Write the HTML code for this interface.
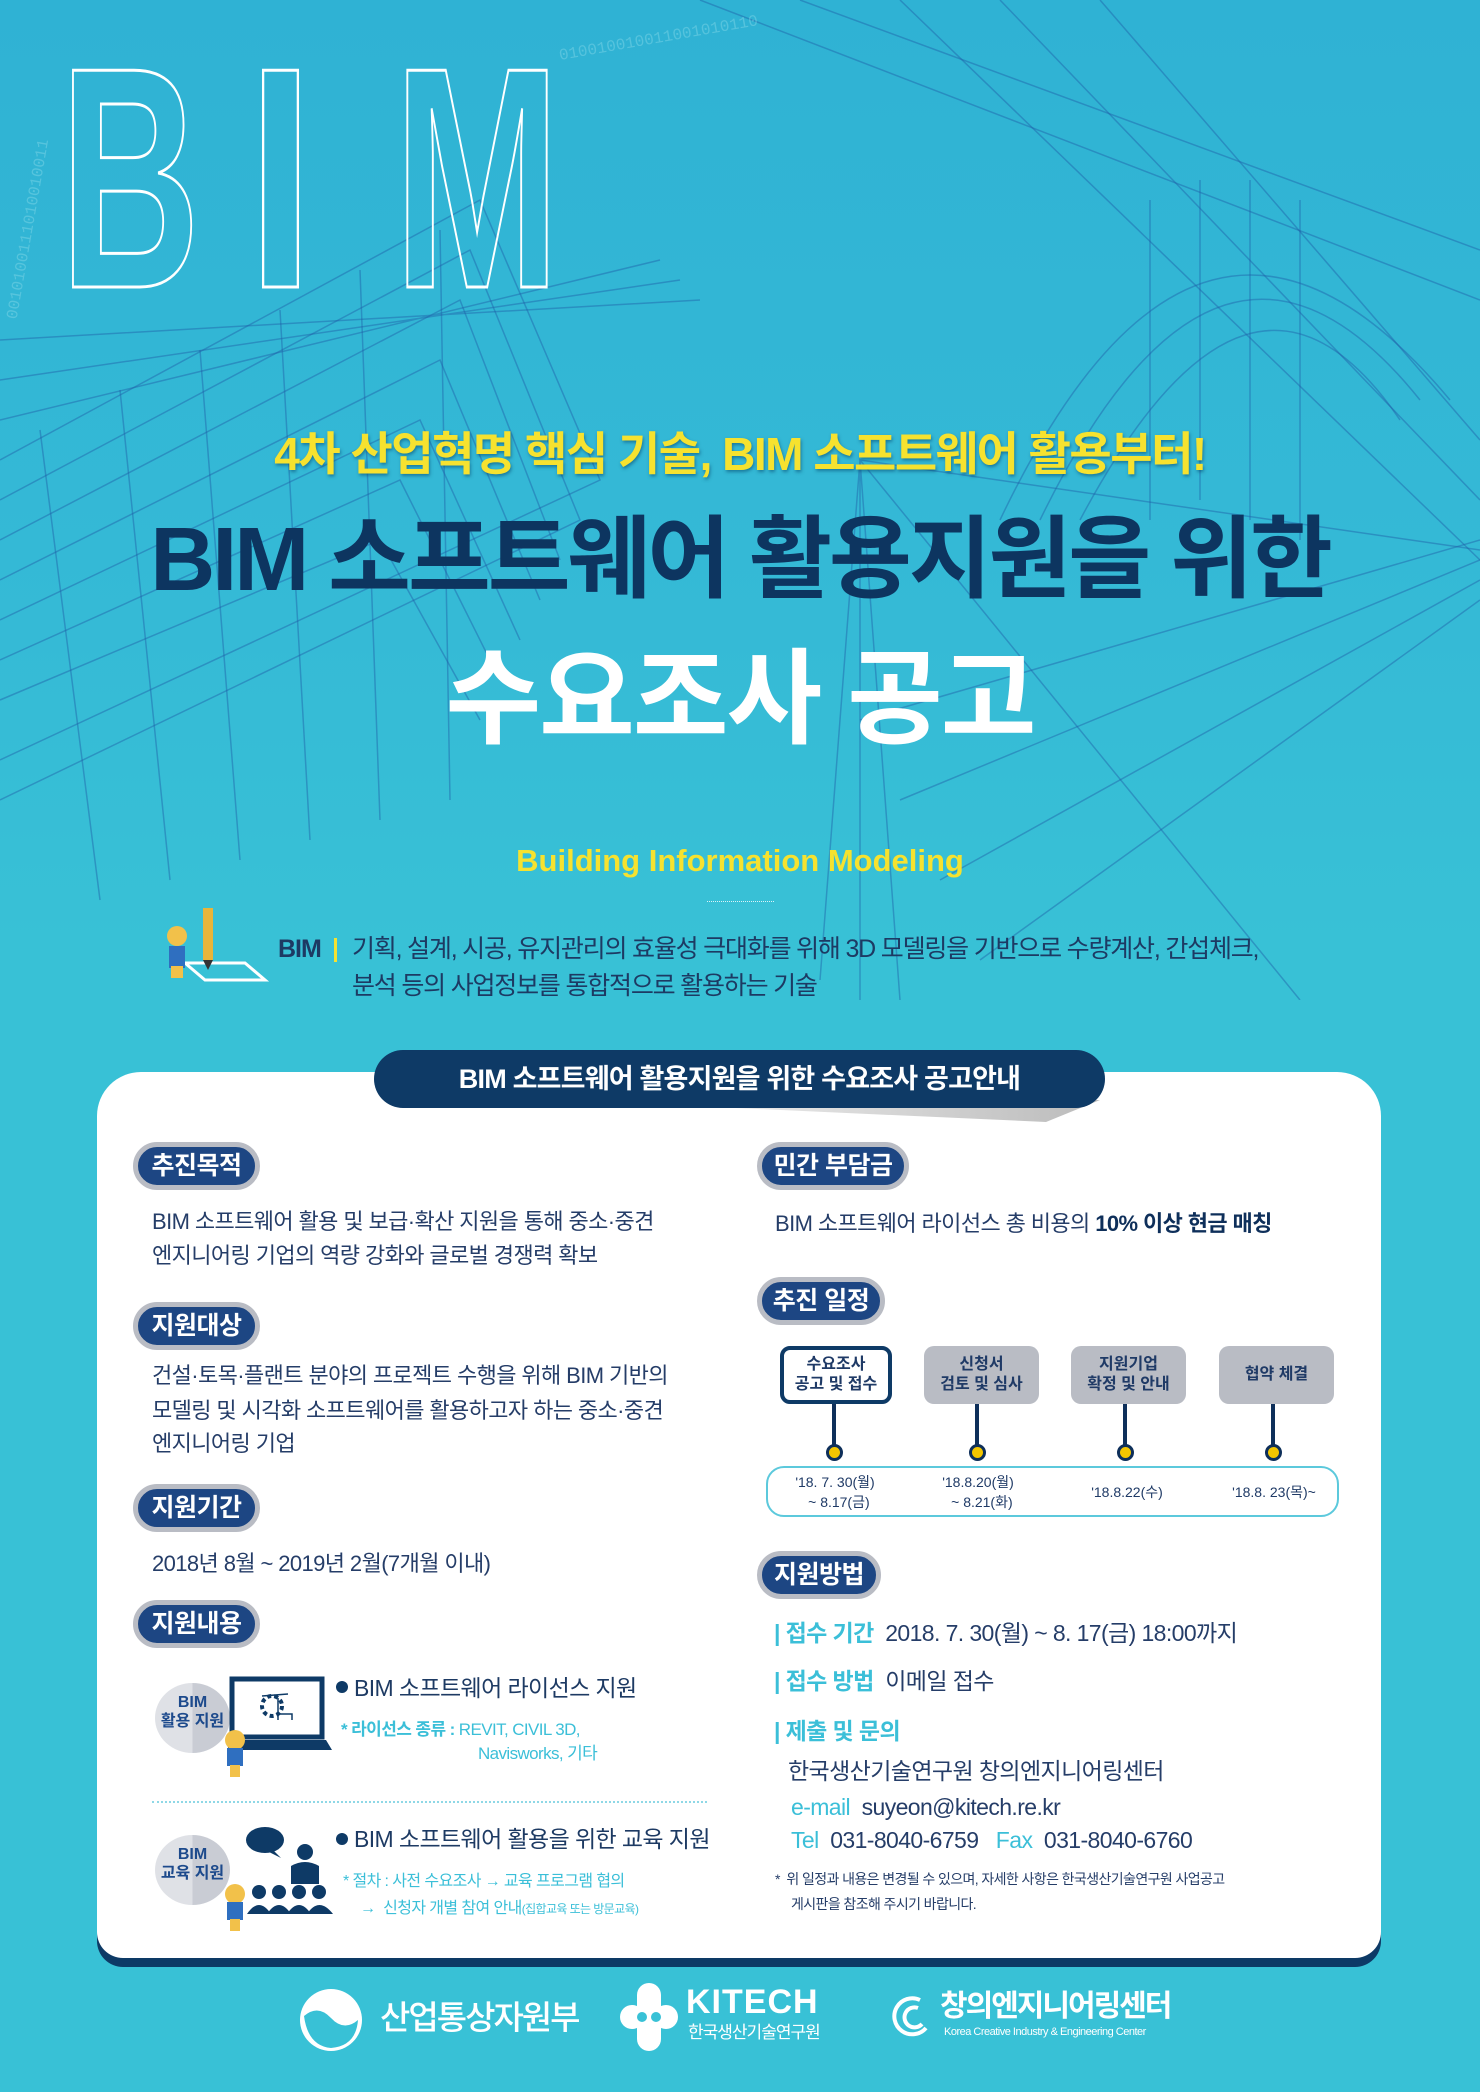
<!DOCTYPE html>
<html><head><meta charset="utf-8">
<style>
*{margin:0;padding:0;box-sizing:border-box}
body{width:1480px;height:2092px;overflow:hidden;font-family:"Liberation Sans","Noto Sans CJK KR",sans-serif;background:#38c1d6}
#bg{position:absolute;left:0;top:0;width:1480px;height:2092px;background:linear-gradient(180deg,#2fb2d4 0%,#35bad6 30%,#38c1d6 45%,#38c1d6 100%)}
.a{position:absolute;white-space:nowrap}
.kr{font-family:"Liberation Sans","Noto Sans CJK KR",sans-serif}
.pill{position:absolute;height:48px;border-radius:24px;background:#1d4683;border:5px solid #b9bcc4;color:#fff;font-weight:700;font-size:25px;line-height:38px;text-align:center;letter-spacing:-0.5px}
.pill:after{content:"";position:absolute;left:40%;top:40px;width:55%;height:8px;background:linear-gradient(90deg,#bbb,rgba(200,200,200,0));clip-path:polygon(0 0,100% 0,70% 100%);z-index:-1}
.t{position:absolute;white-space:nowrap;font-size:22px;color:#253d68;letter-spacing:-0.6px;line-height:30px}
.box{position:absolute;top:1346px;height:58px;border-radius:10px;background:#b9bcc4;color:#1f3a66;font-size:16px;font-weight:700;text-align:center;line-height:20px;display:flex;align-items:center;justify-content:center}
.stem{position:absolute;top:1404px;width:4px;height:42px;background:#0e2f5a}
.dot{position:absolute;top:1444px;width:17px;height:17px;border-radius:50%;background:#f3c600;border:3px solid #0e2f5a}
.dt{position:absolute;font-size:14px;color:#1f3a66;line-height:20px;text-align:center;white-space:nowrap}
.lab{color:#3bbfd8;font-weight:700}
</style></head><body>
<div id="bg"></div>
<svg class="a" style="left:0;top:0" width="1480" height="1000" viewBox="0 0 1480 1000">
<g stroke="#1f5fa8" stroke-opacity="0.45" fill="none" stroke-width="1.5">
<path d="M0 460 L480 200 L600 480 L0 760"/>
<path d="M0 500 L470 250 L580 520 L0 800"/>
<path d="M0 540 L460 300 L560 560"/>
<path d="M0 580 L440 360 L540 600"/>
<path d="M0 620 L420 420 L520 640"/>
<path d="M0 660 L400 480 L500 680"/>
<path d="M0 700 L380 540 L480 720"/>
<path d="M0 420 L660 260 M0 380 L680 280 M0 340 L700 300"/>
<path d="M40 430 L100 900 M120 390 L170 880 M200 350 L240 860 M280 310 L310 840 M360 270 L380 820 M440 230 L450 800"/>
<path d="M860 1000 L860 460 L1480 550 M820 980 L860 460 L1300 1000 M900 1000 L860 460"/>
<path d="M900 0 L1480 560 M1000 0 L1480 500 M1100 0 L1480 440"/>
<path d="M1000 520 Q1200 100 1450 400 M1040 520 Q1220 150 1420 400 M1080 520 Q1250 200 1400 420"/>
<path d="M1480 540 L860 720 M1480 560 L900 800 M1480 580 L940 880 M1480 600 L980 960"/>
<path d="M700 0 L1480 300 M800 0 L1480 250"/>
<path d="M1150 200 L1150 520 M1200 180 L1200 500 M1250 180 L1250 520 M1300 200 L1300 540"/>
</g>
<g font-family="Liberation Sans" font-size="315" font-weight="700" fill="none" stroke="#fff" stroke-width="3">
<text x="60" y="287" textLength="140" lengthAdjust="spacingAndGlyphs">B</text>
<text x="247" y="287" textLength="67" lengthAdjust="spacingAndGlyphs">I</text>
<text x="394" y="287" textLength="166" lengthAdjust="spacingAndGlyphs">M</text>
</g>
<g fill="#9fe3ee" fill-opacity="0.35" font-family="Liberation Mono" font-size="16">
<text x="0" y="300" transform="rotate(-80 20 300)">0010100111010010011</text>
<text x="560" y="60" transform="rotate(-10 560 60)">010010010011001010110</text>
</g>
</svg>

<div class="a kr" style="left:0;width:1480px;top:424px;text-align:center;font-size:46px;font-weight:700;color:#f6e22f;letter-spacing:-1.5px;line-height:60px;text-shadow:1px 2px 3px rgba(0,60,100,0.5)">4차 산업혁명 핵심 기술, BIM 소프트웨어 활용부터!</div>
<div class="a kr" style="left:0;width:1480px;top:505px;text-align:center;font-size:90px;font-weight:700;color:#0d3560;letter-spacing:-3px;line-height:110px">BIM 소프트웨어 활용지원을 위한</div>
<div class="a kr" style="left:0;width:1480px;top:636px;text-align:center;font-size:104px;font-weight:700;color:#fff;letter-spacing:-2px;line-height:128px">수요조사 공고</div>
<div class="a" style="left:0;width:1480px;top:842px;text-align:center;font-size:31px;font-weight:700;color:#f6e22f;line-height:38px;font-family:'Liberation Sans',sans-serif">Building Information Modeling</div>
<div class="a" style="left:707px;top:901px;width:67px;border-top:1px dotted #d8f3f8"></div>

<svg class="a" style="left:155px;top:908px" width="115" height="75" viewBox="0 0 115 75">
<polygon points="30,55 90,55 110,72 50,72" fill="none" stroke="#fff" stroke-width="3"/>
<rect x="48" y="0" width="10" height="52" fill="#e8b53a"/><polygon points="48,52 58,52 53,62" fill="#333"/>
<circle cx="22" cy="28" r="10" fill="#f2c14a"/><rect x="14" y="38" width="16" height="22" fill="#2f6fc0"/><rect x="16" y="58" width="12" height="12" fill="#f2c14a"/>
</svg>
<div class="a kr" style="left:278px;top:934px;font-size:25px;font-weight:700;color:#1d3a63;line-height:30px;letter-spacing:-1px">BIM</div>
<div class="a" style="left:334px;top:938px;width:3px;height:24px;background:#f6e22f"></div>
<div class="a kr" style="left:352px;top:932px;font-size:25px;color:#1d3a63;line-height:34px;letter-spacing:-1.2px">기획, 설계, 시공, 유지관리의 효율성 극대화를 위해 3D 모델링을 기반으로 수량계산, 간섭체크,</div>
<div class="a kr" style="left:352px;top:969px;font-size:25px;color:#1d3a63;line-height:34px;letter-spacing:-1.2px">분석 등의 사업정보를 통합적으로 활용하는 기술</div>

<!-- card -->
<div class="a" style="left:97px;top:1072px;width:1284px;height:886px;background:#fff;border-radius:44px 44px 26px 26px;box-shadow:0 9px 0 #0d3a66"></div>
<div class="a" style="left:560px;top:1100px;width:540px;height:22px;background:linear-gradient(90deg,rgba(180,180,180,0),#bbb);clip-path:polygon(0 0,100% 0,90% 100%)"></div>
<div class="a kr" style="left:374px;top:1050px;width:731px;height:58px;border-radius:29px;background:#0e3a66;color:#fff;font-size:27px;font-weight:700;text-align:center;line-height:58px;letter-spacing:-0.8px">BIM 소프트웨어 활용지원을 위한 수요조사 공고안내</div>

<!-- left column -->
<div class="pill kr" style="left:133px;top:1142px;width:127px">추진목적</div>
<div class="t kr" style="left:152px;top:1207px">BIM 소프트웨어 활용 및 보급·확산 지원을 통해 중소·중견</div>
<div class="t kr" style="left:152px;top:1241px">엔지니어링 기업의 역량 강화와 글로벌 경쟁력 확보</div>

<div class="pill kr" style="left:133px;top:1302px;width:127px">지원대상</div>
<div class="t kr" style="left:152px;top:1361px">건설·토목·플랜트 분야의 프로젝트 수행을 위해 BIM 기반의</div>
<div class="t kr" style="left:152px;top:1396px">모델링 및 시각화 소프트웨어를 활용하고자 하는 중소·중견</div>
<div class="t kr" style="left:152px;top:1429px">엔지니어링 기업</div>

<div class="pill kr" style="left:133px;top:1484px;width:127px">지원기간</div>
<div class="t kr" style="left:152px;top:1549px">2018년 8월 ~ 2019년 2월(7개월 이내)</div>

<div class="pill kr" style="left:133px;top:1600px;width:127px">지원내용</div>

<div class="a" style="left:155px;top:1683px;width:75px;height:70px;border-radius:50%;background:linear-gradient(90deg,#dfe1e6 50%,#c9ccd4 50%)"></div>
<div class="a kr" style="left:150px;top:1693px;width:85px;text-align:center;font-size:16px;font-weight:700;color:#1d4a8c;line-height:19px">BIM<br>활용 지원</div>
<svg class="a" style="left:228px;top:1676px" width="104" height="80" viewBox="0 0 104 80">
<rect x="4" y="3" width="90" height="58" fill="#fff" stroke="#0e3a66" stroke-width="5"/>
<polygon points="0,64 98,64 104,74 0,74" fill="#0e3a66"/>
<circle cx="44" cy="30" r="10" fill="none" stroke="#0e3a66" stroke-width="4" stroke-dasharray="4 3"/>
<path d="M34 20 L60 18 M50 22 L50 44 M50 38 L64 38 L64 44" stroke="#0e3a66" stroke-width="1.5" fill="none"/>
</svg>
<svg class="a" style="left:220px;top:1730px" width="30" height="50" viewBox="0 0 30 50"><circle cx="15" cy="10" r="10" fill="#f2c14a"/><rect x="7" y="18" width="16" height="18" fill="#2f6fc0"/><rect x="10" y="35" width="10" height="12" fill="#f2c14a"/></svg>
<div class="a" style="left:336px;top:1681px;width:12px;height:12px;border-radius:50%;background:#0e3a66"></div>
<div class="t kr" style="left:354px;top:1673px;font-size:23px;color:#1d3a63">BIM 소프트웨어 라이선스 지원</div>
<div class="t kr" style="left:341px;top:1718px;font-size:17px;color:#3bbfd8;line-height:24px"><b>* 라이선스 종류 :</b> REVIT, CIVIL 3D,</div>
<div class="t kr" style="left:478px;top:1742px;font-size:17px;color:#3bbfd8;line-height:24px">Navisworks, 기타</div>

<div class="a" style="left:152px;top:1801px;width:555px;border-top:2px dotted #8fd8e6"></div>

<div class="a" style="left:155px;top:1835px;width:75px;height:70px;border-radius:50%;background:linear-gradient(90deg,#dfe1e6 50%,#c9ccd4 50%)"></div>
<div class="a kr" style="left:150px;top:1845px;width:85px;text-align:center;font-size:16px;font-weight:700;color:#1d4a8c;line-height:19px">BIM<br>교육 지원</div>
<svg class="a" style="left:245px;top:1826px" width="92" height="92" viewBox="0 0 92 92">
<ellipse cx="20" cy="14" rx="19" ry="13" fill="#0e3a66"/><polygon points="28,24 36,32 24,26" fill="#0e3a66"/>
<circle cx="60" cy="26" r="8" fill="#0e3a66"/><path d="M46 58 L46 40 Q60 32 74 40 L74 58 Z" fill="#0e3a66"/>
<circle cx="14" cy="66" r="7" fill="#0e3a66"/><circle cx="34" cy="66" r="7" fill="#0e3a66"/><circle cx="54" cy="66" r="7" fill="#0e3a66"/><circle cx="74" cy="66" r="7" fill="#0e3a66"/>
<path d="M2 88 Q14 70 26 88 Z M22 88 Q34 70 46 88 Z M42 88 Q54 70 66 88 Z M62 88 Q74 70 88 88 Z" fill="#0e3a66"/>
</svg>
<svg class="a" style="left:220px;top:1884px" width="30" height="50" viewBox="0 0 30 50"><circle cx="15" cy="10" r="10" fill="#f2c14a"/><rect x="7" y="18" width="16" height="18" fill="#2f6fc0"/><rect x="10" y="35" width="10" height="12" fill="#f2c14a"/></svg>
<div class="a" style="left:336px;top:1833px;width:12px;height:12px;border-radius:50%;background:#0e3a66"></div>
<div class="t kr" style="left:354px;top:1824px;font-size:23px;color:#1d3a63">BIM 소프트웨어 활용을 위한 교육 지원</div>
<div class="t kr" style="left:343px;top:1870px;font-size:16px;color:#3bbfd8;line-height:24px">* 절차 : 사전 수요조사 → 교육 프로그램 협의</div>
<div class="t kr" style="left:360px;top:1897px;font-size:16px;color:#3bbfd8;line-height:24px">→ &nbsp;신청자 개별 참여 안내<span style="font-size:12px">(집합교육 또는 방문교육)</span></div>

<!-- right column -->
<div class="pill kr" style="left:757px;top:1142px;width:152px">민간 부담금</div>
<div class="t kr" style="left:775px;top:1209px">BIM 소프트웨어 라이선스 총 비용의 <b style="color:#0e2f5a">10% 이상 현금 매칭</b></div>

<div class="pill kr" style="left:757px;top:1277px;width:128px">추진 일정</div>
<div class="box kr" style="left:780px;width:112px;background:#fff;border:4px solid #0e3a66">수요조사<br>공고 및 접수</div>
<div class="box kr" style="left:924px;width:115px">신청서<br>검토 및 심사</div>
<div class="box kr" style="left:1071px;width:115px">지원기업<br>확정 및 안내</div>
<div class="box kr" style="left:1219px;width:115px">협약 체결</div>
<div class="stem" style="left:832px"></div><div class="stem" style="left:975px"></div><div class="stem" style="left:1123px"></div><div class="stem" style="left:1271px"></div>
<div class="dot" style="left:826px"></div><div class="dot" style="left:969px"></div><div class="dot" style="left:1117px"></div><div class="dot" style="left:1265px"></div>
<div class="a" style="left:766px;top:1466px;width:573px;height:51px;border:2px solid #5cc9dc;border-radius:18px"></div>
<div class="dt kr" style="left:795px;top:1472px;width:80px">'18. 7. 30(월)<br>&nbsp;&nbsp;~ 8.17(금)</div>
<div class="dt kr" style="left:938px;top:1472px;width:80px">'18.8.20(월)<br>&nbsp;&nbsp;~ 8.21(화)</div>
<div class="dt kr" style="left:1087px;top:1482px;width:80px">'18.8.22(수)</div>
<div class="dt kr" style="left:1229px;top:1482px;width:90px">'18.8. 23(목)~</div>

<div class="pill kr" style="left:757px;top:1551px;width:124px">지원방법</div>
<div class="t kr" style="left:774px;top:1617px;font-size:23px;line-height:32px"><span class="lab">| 접수 기간</span>&nbsp; 2018. 7. 30(월) ~ 8. 17(금) 18:00까지</div>
<div class="t kr" style="left:774px;top:1665px;font-size:23px;line-height:32px"><span class="lab">| 접수 방법</span>&nbsp; 이메일 접수</div>
<div class="t kr" style="left:774px;top:1715px;font-size:23px;line-height:32px"><span class="lab">| 제출 및 문의</span></div>
<div class="t kr" style="left:788px;top:1755px;font-size:23px;line-height:32px">한국생산기술연구원 창의엔지니어링센터</div>
<div class="t kr" style="left:791px;top:1791px;font-size:23px;line-height:32px"><span style="color:#3bbfd8">e-mail</span>&nbsp; suyeon@kitech.re.kr</div>
<div class="t kr" style="left:791px;top:1824px;font-size:23px;line-height:32px"><span style="color:#3bbfd8">Tel</span>&nbsp; 031-8040-6759 &nbsp;&nbsp;<span style="color:#3bbfd8">Fax</span>&nbsp; 031-8040-6760</div>
<div class="t kr" style="left:775px;top:1868px;font-size:14px;line-height:22px;letter-spacing:-0.6px">*&nbsp; 위 일정과 내용은 변경될 수 있으며, 자세한 사항은 한국생산기술연구원 사업공고</div>
<div class="t kr" style="left:791px;top:1893px;font-size:14px;line-height:22px;letter-spacing:-0.6px">게시판을 참조해 주시기 바랍니다.</div>

<!-- logos -->
<svg class="a" style="left:298px;top:1986px" width="66" height="68" viewBox="0 0 66 68"><circle cx="33" cy="34" r="31" fill="#fff"/><path d="M6 30 Q20 18 33 32 Q46 46 60 34 Q58 60 33 62 Q10 60 6 30Z" fill="#38c1d6"/></svg>
<div class="a kr" style="left:380px;top:1996px;font-size:33px;color:#fff;font-weight:500;letter-spacing:-2px;line-height:44px">산업통상자원부</div>
<svg class="a" style="left:620px;top:1982px" width="58" height="70" viewBox="0 0 58 70"><g fill="#fff"><circle cx="29" cy="13" r="12"/><circle cx="29" cy="57" r="12"/><circle cx="12" cy="35" r="12"/><circle cx="46" cy="35" r="12"/><rect x="17" y="13" width="24" height="44"/></g><circle cx="22" cy="35" r="5" fill="#38c1d6"/><circle cx="36" cy="35" r="5" fill="#38c1d6"/></svg>
<div class="a" style="left:686px;top:1982px;font-size:34px;color:#fff;font-weight:700;line-height:40px;letter-spacing:1px">KITECH</div>
<div class="a kr" style="left:688px;top:2022px;font-size:17px;color:#fff;line-height:22px;letter-spacing:-1px">한국생산기술연구원</div>
<svg class="a" style="left:890px;top:1994px" width="42" height="46" viewBox="0 0 42 46"><g fill="none" stroke="#fff" stroke-width="4"><path d="M30 6 A18 18 0 1 0 36 34"/><path d="M28 14 A10 10 0 1 0 32 30"/></g></svg>
<div class="a kr" style="left:940px;top:1988px;font-size:30px;color:#fff;font-weight:700;line-height:38px;letter-spacing:-2px">창의엔지니어링센터</div>
<div class="a" style="left:944px;top:2025px;font-size:11px;color:#fff;line-height:14px;letter-spacing:-0.5px">Korea Creative Industry &amp; Engineering Center</div>
</body></html>
